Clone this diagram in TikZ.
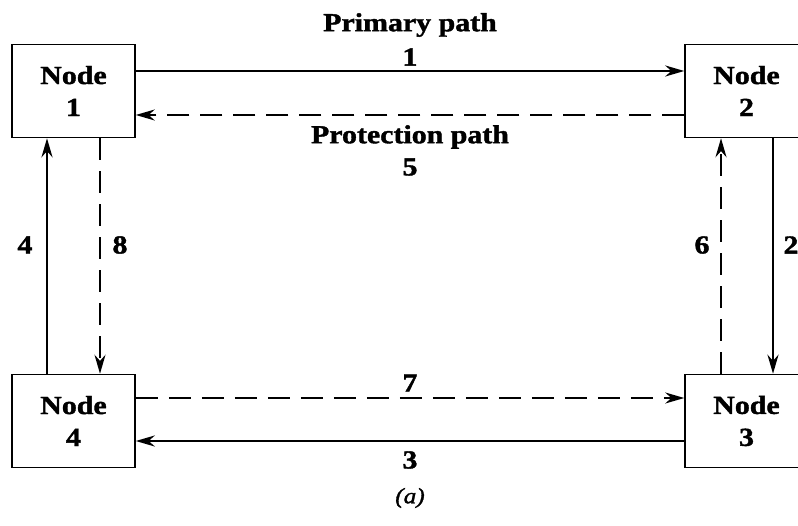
\documentclass[tikz,border=0pt]{standalone}
\usepackage{fontspec}
\setmainfont{Liberation Serif}[FakeStretch=1.15,FakeBold=1.5]
\usetikzlibrary{arrows.meta}
\begin{document}
\begin{tikzpicture}[x=1pt,y=1pt,
  font=\fontsize{26}{32}\selectfont\bfseries,
  nodebox/.style={draw,line width=1.5pt,minimum width=123pt,minimum height=93pt,align=center,inner sep=0pt},
  work/.style={line width=2.6pt,-{Stealth[length=19pt,width=11pt]}},
  prot/.style={line width=1.9pt,dash pattern=on 22pt off 11pt,-{Stealth[length=19pt,width=11pt]}},
  lbl/.style={inner sep=0pt}]
\useasboundingbox (0,0) rectangle (798,525);
\clip (0,0) rectangle (798,525);
\node[nodebox] (n1) at (73.5,434) {Node\\1};
\node[nodebox] (n2) at (746.5,434) {Node\\2};
\node[nodebox] (n4) at (73.5,104) {Node\\4};
\node[nodebox] (n3) at (746.5,104) {Node\\3};
% primary path
\draw[work] (n1.east |- 0,454) -- (n2.west |- 0,454);
\draw[work] (n2.south -| 773,0) -- (n3.north -| 773,0);
\draw[work] (n3.west |- 0,84) -- (n4.east |- 0,84);
\draw[work] (n4.north -| 47,0) -- (n1.south -| 47,0);
% protection path
\draw[prot] (n2.west |- 0,410) -- (n1.east |- 0,410);
\draw[prot] (n1.south -| 100,0) -- (n4.north -| 100,0);
\draw[prot] (n4.east |- 0,127) -- (n3.west |- 0,127);
\draw[prot] (n3.north -| 721,0) -- (n2.south -| 721,0);
% labels
\node[lbl] (tp) at (410,500) {Primary path};
\node[lbl] (t1) at (410,468) {1};
\node[lbl] (tq) at (410,388) {Protection path};
\node[lbl] (t5) at (410,358) {5};
\node[lbl] (t4) at (25,280) {4};
\node[lbl] (t8) at (120,280) {8};
\node[lbl] (t6) at (702,280) {6};
\node[lbl] (t2) at (791,280) {2};
\node[lbl] (t7) at (410,142) {7};
\node[lbl] (t3) at (410,65) {3};
\node[lbl,font=\fontsize{22}{26}\selectfont\itshape] (ta) at (410,27) {(a)};
\end{tikzpicture}
\end{document}
